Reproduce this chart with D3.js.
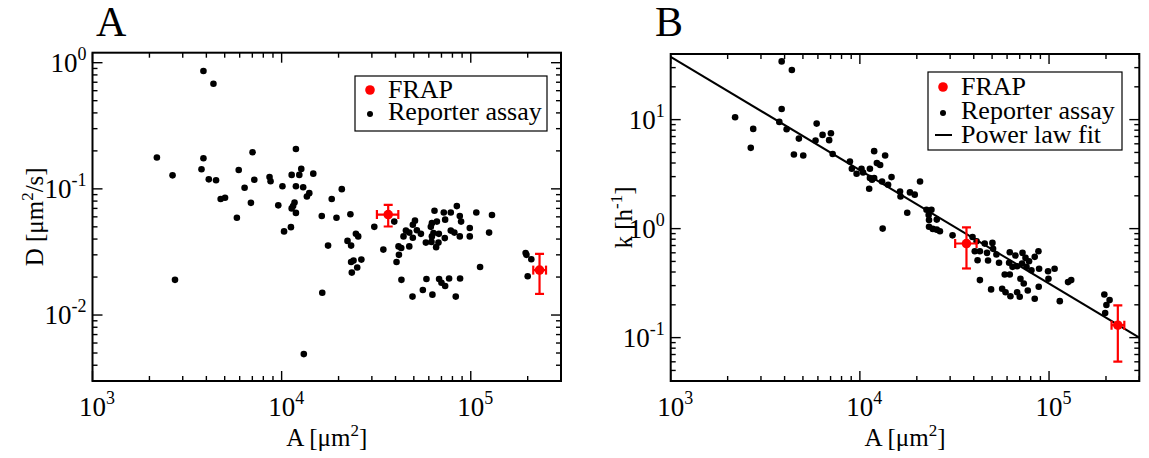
<!DOCTYPE html>
<html>
<head>
<meta charset="utf-8">
<script src="https://cdn.jsdelivr.net/npm/d3@7"></script>
<style>
  body { margin: 0; background: #fff; }
  svg { display: block; }
  text { font-family: "Liberation Serif", "Times New Roman", serif; fill: #000; }
</style>
</head>
<body>
<svg id="chart" width="1149" height="458"></svg>
<script>
// reporter assay, panel A : area [um^2] and diffusion constant D [um^2/s]
var reporterAreaA = [3860, 4360, 2190, 3860, 7020, 11900, 2650, 3770, 4120, 4500,
  5930, 7170, 8630, 8740, 11300, 12700, 12400, 14700, 10100, 11900,
  13000, 6370, 4760, 5020, 6880, 9600, 11700, 11500, 11300, 11900,
  13600, 14000, 16300, 5800, 18400, 11200, 10300, 17600, 2730, 16400,
  13100, 20800, 19500, 23100, 39400, 30900, 22300, 23300, 24700, 25400,
  34500, 23300, 24000, 26400, 25100, 23500, 50700, 49400, 45400, 47300,
  44100, 49400, 51900, 54500, 41500, 42900, 47300, 41700, 40500, 43000,
  64300, 72000, 78400, 84400, 87500, 88900, 73200, 66200, 62300, 61500,
  63500, 67800, 62300, 57900, 62000, 65600, 67500, 72900, 78400, 81900,
  87500, 98800, 98800, 107000, 129500, 125000, 112000, 58300, 68000, 70000,
  73200, 76800, 87800, 55800, 49200, 62700, 83300, 195000, 197000, 209000, 200000];
var reporterD = [0.86, 0.68, 0.177, 0.175, 0.195, 0.207, 0.128, 0.143, 0.119, 0.117,
  0.141, 0.118, 0.124, 0.115, 0.129, 0.144, 0.129, 0.132, 0.105, 0.105,
  0.103, 0.102, 0.083, 0.085, 0.0775, 0.074, 0.078, 0.073, 0.070, 0.0645,
  0.087, 0.0925, 0.061, 0.059, 0.083, 0.0497, 0.046, 0.0355, 0.019, 0.015,
  0.0049, 0.0995, 0.059, 0.063, 0.055, 0.050, 0.0387, 0.0355, 0.044, 0.042,
  0.033, 0.0263, 0.027, 0.0275, 0.0238, 0.0217, 0.056, 0.052, 0.0467, 0.045,
  0.042, 0.041, 0.047, 0.044, 0.035, 0.034, 0.035, 0.030, 0.0263, 0.019,
  0.067, 0.065, 0.065, 0.073, 0.061, 0.055, 0.057, 0.055, 0.0535, 0.050,
  0.0446, 0.044, 0.042, 0.0375, 0.038, 0.0345, 0.0375, 0.0407, 0.0467, 0.045,
  0.042, 0.049, 0.042, 0.065, 0.062, 0.045, 0.024, 0.0193, 0.0193, 0.018,
  0.017, 0.0195, 0.0195, 0.0158, 0.014, 0.0145, 0.014, 0.031, 0.030, 0.0277, 0.0203];

// reporter assay, panel B : area [um^2] and rate k [1/h]
var reporterAreaB = [3860, 4370, 3860, 2190, 3750, 2730, 4100, 2650, 4760, 5910,
  5830, 6350, 7030, 6880, 4480, 5020, 7180, 8860, 9070, 9610,
  10200, 10400, 11300, 11900, 12300, 12800, 13600, 11300, 11600, 11900,
  11200, 13100, 14100, 14700, 16300, 16400, 18400, 19500, 20800, 17800,
  22500, 23900, 23100, 23200, 25500, 23200, 24300, 25500, 26500, 13200,
  30900, 39400, 41400, 40500, 43100, 41900, 45700, 50200, 47000, 50600,
  52700, 47600, 54400, 43100, 49400, 56500, 58900, 62500, 62000, 66400,
  72400, 75100, 78400, 87900, 84000, 61500, 64100, 67800, 72000, 76000,
  80700, 88600, 98800, 107000, 58300, 62000, 70600, 73500, 77200, 67800,
  70000, 84000, 88200, 99300, 114000, 126000, 131000, 196000, 209000, 201000, 198000];
var reporterK = [34.2, 28.5, 12.5, 10.5, 9.53, 8.22, 8.17, 5.51, 6.70, 9.19,
  6.43, 7.24, 7.51, 6.48, 4.78, 4.68, 4.83, 4.13, 3.54, 3.19,
  3.54, 3.27, 3.54, 5.14, 3.99, 3.83, 4.68, 2.91, 2.81, 2.91,
  2.32, 2.71, 2.53, 2.97, 2.19, 1.97, 2.15, 2.05, 2.71, 1.40,
  1.49, 1.49, 1.33, 1.20, 1.21, 1.04, 0.994, 0.979, 0.945, 1.0,
  0.868, 0.839, 0.765, 0.620, 0.620, 0.513, 0.729, 0.740, 0.599, 0.652,
  0.578, 0.510, 0.486, 0.337, 0.277, 0.281, 0.261, 0.240, 0.607, 0.566,
  0.599, 0.539, 0.502, 0.620, 0.551, 0.486, 0.446, 0.452, 0.478, 0.446,
  0.415, 0.428, 0.407, 0.428, 0.379, 0.379, 0.347, 0.314, 0.271, 0.261,
  0.237, 0.227, 0.293, 0.347, 0.216, 0.323, 0.337, 0.249, 0.221, 0.199, 0.168];

// FRAP measurements with error bars
var frapArea = [36600, 231000];
var frapAreaLo = [31900, 214000];
var frapAreaHi = [41400, 250000];
var frapD = [0.0626, 0.0227];
var frapDLo = [0.0503, 0.0147];
var frapDHi = [0.0747, 0.0305];
var frapK = [0.73, 0.13];
var frapKLo = [0.431, 0.0603];
var frapKHi = [1.028, 0.1975];

// power law fit k = c * (A/1000)^p
var fitPrefactor = 37.7;
var fitExponent = -1.04;

var legendA = ["FRAP", "Reporter assay"];
var legendB = ["FRAP", "Reporter assay", "Power law fit"];

var svg = d3.select("#chart");
svg.append("rect").attr("width", 1149).attr("height", 458).attr("fill", "#fff");

function isDecade(t) {
  var l = Math.log10(t);
  return Math.abs(l - Math.round(l)) < 1e-6;
}

function powLabel(sel, t) {
  sel.append("tspan").text("10");
  sel.append("tspan").attr("dy", -12).attr("font-size", 18).text(Math.round(Math.log10(t)));
}

function drawPanel(p) {
  var x = d3.scaleLog().domain([1e3, 3e5]).range([p.left, p.right]);
  var y = d3.scaleLog().domain(p.yDomain).range([p.bottom, p.top]);
  var g = svg.append("g");

  var clipId = "clip" + p.letter;
  g.append("clipPath").attr("id", clipId).append("rect")
    .attr("x", p.left).attr("y", p.top)
    .attr("width", p.right - p.left).attr("height", p.bottom - p.top);

  // ticks on all four sides, pointing inward
  x.ticks().forEach(function(t) {
    var len = isDecade(t) ? 10 : 5, xx = x(t);
    g.append("line").attr("x1", xx).attr("x2", xx).attr("y1", p.bottom).attr("y2", p.bottom - len);
    g.append("line").attr("x1", xx).attr("x2", xx).attr("y1", p.top).attr("y2", p.top + len);
    if (isDecade(t)) {
      var lab = g.append("text").attr("x", xx - 13.5).attr("y", p.bottom + 35).attr("font-size", 27);
      powLabel(lab, t);
    }
  });
  y.ticks().forEach(function(t) {
    var len = isDecade(t) ? 10 : 5, yy = y(t);
    g.append("line").attr("y1", yy).attr("y2", yy).attr("x1", p.left).attr("x2", p.left + len);
    g.append("line").attr("y1", yy).attr("y2", yy).attr("x1", p.right).attr("x2", p.right - len);
    if (isDecade(t)) {
      var lab = g.append("text").attr("x", p.left - 6).attr("y", yy + 9)
        .attr("font-size", 27).attr("text-anchor", "end");
      powLabel(lab, t);
    }
  });
  g.selectAll("line").attr("stroke", "#000").attr("stroke-width", 1.4);

  g.append("rect").attr("x", p.left).attr("y", p.top)
    .attr("width", p.right - p.left).attr("height", p.bottom - p.top)
    .attr("fill", "none").attr("stroke", "#000").attr("stroke-width", 2);

  var plot = g.append("g").attr("clip-path", "url(#" + clipId + ")");

  if (p.fit) {
    var fitLine = d3.line().x(function(a) { return x(a); })
      .y(function(a) { return y(fitPrefactor * Math.pow(a / 1000, fitExponent)); });
    plot.append("path").attr("d", fitLine([1e3, 3e5]))
      .attr("fill", "none").attr("stroke", "#000").attr("stroke-width", 2);
  }

  plot.selectAll("circle.rep").data(d3.range(p.xs.length)).join("circle")
    .attr("class", "rep")
    .attr("cx", function(i) { return x(p.xs[i]); })
    .attr("cy", function(i) { return y(p.ys[i]); })
    .attr("r", 3.3).attr("fill", "#000");

  // FRAP points with error bars
  frapArea.forEach(function(a, i) {
    var cx = x(a), cy = y(p.fy[i]), red = "#ff0000", cap = 4.5;
    var e = plot.append("g").attr("stroke", red).attr("stroke-width", 2.2);
    e.append("line").attr("x1", cx).attr("x2", cx).attr("y1", y(p.fyLo[i])).attr("y2", y(p.fyHi[i]));
    e.append("line").attr("x1", cx - cap).attr("x2", cx + cap).attr("y1", y(p.fyLo[i])).attr("y2", y(p.fyLo[i]));
    e.append("line").attr("x1", cx - cap).attr("x2", cx + cap).attr("y1", y(p.fyHi[i])).attr("y2", y(p.fyHi[i]));
    e.append("line").attr("x1", x(frapAreaLo[i])).attr("x2", x(frapAreaHi[i])).attr("y1", cy).attr("y2", cy);
    e.append("line").attr("x1", x(frapAreaLo[i])).attr("x2", x(frapAreaLo[i])).attr("y1", cy - cap).attr("y2", cy + cap);
    e.append("line").attr("x1", x(frapAreaHi[i])).attr("x2", x(frapAreaHi[i])).attr("y1", cy - cap).attr("y2", cy + cap);
    plot.append("circle").attr("cx", cx).attr("cy", cy).attr("r", 4.8).attr("fill", red);
  });

  // legend
  var L = p.legend;
  var lg = g.append("g");
  lg.append("rect").attr("x", L.x).attr("y", L.y).attr("width", L.w).attr("height", L.h)
    .attr("fill", "#fff").attr("stroke", "#000").attr("stroke-width", 1.2);
  p.legendItems.forEach(function(name, i) {
    var by = L.y + L.first + i * L.step;
    if (i === 0) lg.append("circle").attr("cx", L.x + 15).attr("cy", by - 8).attr("r", 4.8).attr("fill", "#ff0000");
    if (i === 1) lg.append("circle").attr("cx", L.x + 15).attr("cy", by - 6).attr("r", 3).attr("fill", "#000");
    if (i === 2) lg.append("line").attr("x1", L.x + 7).attr("x2", L.x + 24).attr("y1", by - 8).attr("y2", by - 8)
      .attr("stroke", "#000").attr("stroke-width", 2);
    lg.append("text").attr("x", L.x + 33).attr("y", by).attr("font-size", 26).text(name);
  });

  // titles
  g.append("text").attr("x", p.letterX).attr("y", 36).attr("font-size", 42).text(p.letter);

  var xt = g.append("text").attr("x", (p.left + p.right) / 2).attr("y", 446)
    .attr("font-size", 25).attr("text-anchor", "middle");
  xt.append("tspan").text("A [\u03bcm");
  xt.append("tspan").attr("dy", -10).attr("font-size", 17).text("2");
  xt.append("tspan").attr("dy", 10).text("]");

  var yt = g.append("text").attr("transform", "translate(" + p.yTitleX + "," + (p.top + p.bottom) / 2 + ") rotate(-90)")
    .attr("font-size", 25).attr("text-anchor", "middle");
  p.yTitle.forEach(function(part) {
    var ts = yt.append("tspan").text(part[0]);
    if (part[1]) ts.attr("dy", part[1]);
    if (part[2]) ts.attr("font-size", part[2]);
  });
}

drawPanel({
  letter: "A", letterX: 96,
  left: 92.5, right: 561, top: 52.7, bottom: 381,
  yDomain: [0.003, 1.2],
  xs: reporterAreaA, ys: reporterD,
  fy: frapD, fyLo: frapDLo, fyHi: frapDHi,
  fit: false,
  legend: { x: 355, y: 76, w: 192, h: 55, first: 22, step: 22 },
  legendItems: legendA,
  yTitleX: 43,
  yTitle: [["D [\u03bcm"], ["2", -10, 17], ["/s]", 10]]
});

drawPanel({
  letter: "B", letterX: 655,
  left: 670.7, right: 1139.3, top: 54, bottom: 381,
  yDomain: [0.04, 40],
  xs: reporterAreaB, ys: reporterK,
  fy: frapK, fyLo: frapKLo, fyHi: frapKHi,
  fit: true,
  legend: { x: 928, y: 72, w: 194, h: 78, first: 23, step: 24 },
  legendItems: legendB,
  yTitleX: 632,
  yTitle: [["k [h"], ["-1", -10, 17], ["]", 10]]
});
</script>
</body>
</html>
